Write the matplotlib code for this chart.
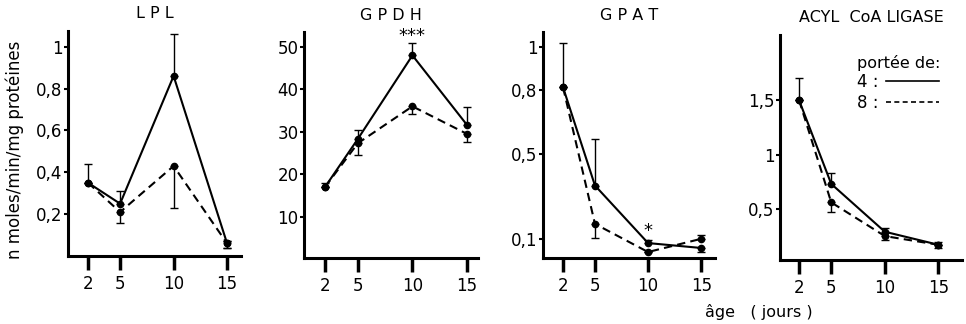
import matplotlib
matplotlib.use("Agg")
import matplotlib.pyplot as plt
from matplotlib.lines import Line2D
import numpy as np

plt.rcParams['font.family'] = ['DejaVu Sans']

ages = [2, 5, 10, 15]
age_labels = ['2', '5', '10', '15']

titles = ['L P L', 'G P D H', 'G P A T', 'ACYL  CoA LIGASE']

# LPL
lpl_4 = [0.35, 0.25, 0.86, 0.06]
lpl_4_lo = [0.0, 0.0, 0.0, 0.02]
lpl_4_hi = [0.09, 0.06, 0.20, 0.01]
lpl_8 = [0.35, 0.21, 0.43, 0.06]
lpl_8_lo = [0.0, 0.05, 0.20, 0.02]
lpl_8_hi = [0.0, 0.0, 0.0, 0.01]

# GPDH
gpdh_4 = [17.0, 28.3, 48.0, 31.6]
gpdh_4_lo = [0.0, 0.0, 0.0, 0.0]
gpdh_4_hi = [1.0, 2.2, 3.0, 4.3]
gpdh_8 = [17.0, 27.3, 36.0, 29.5]
gpdh_8_lo = [0.0, 2.7, 1.8, 1.9]
gpdh_8_hi = [0.0, 0.0, 0.0, 0.0]

# GPAT
gpat_4 = [0.81, 0.35, 0.08, 0.057]
gpat_4_lo = [0.0, 0.0, 0.0, 0.02]
gpat_4_hi = [0.21, 0.22, 0.015, 0.0]
gpat_8 = [0.81, 0.17, 0.038, 0.10]
gpat_8_lo = [0.0, 0.065, 0.0, 0.0]
gpat_8_hi = [0.0, 0.0, 0.0, 0.02]

# ACYL CoA LIGASE
acyl_4 = [1.50, 0.73, 0.29, 0.17]
acyl_4_lo = [0.0, 0.0, 0.0, 0.0]
acyl_4_hi = [0.20, 0.10, 0.03, 0.03]
acyl_8 = [1.50, 0.56, 0.25, 0.17]
acyl_8_lo = [0.0, 0.09, 0.04, 0.03]
acyl_8_hi = [0.0, 0.0, 0.0, 0.0]

yticks = [[0.2, 0.4, 0.6, 0.8, 1.0], [10, 20, 30, 40, 50], [0.1, 0.5, 0.8, 1.0], [0.5, 1.0, 1.5]]
ytick_labels = [['0,2', '0,4', '0,6', '0,8', '1'], ['10', '20', '30', '40', '50'],
                ['0,1', '0,5', '0,8', '1'], ['0,5', '1', '1,5']]

series = [
    (lpl_4, lpl_4_lo, lpl_4_hi, lpl_8, lpl_8_lo, lpl_8_hi),
    (gpdh_4, gpdh_4_lo, gpdh_4_hi, gpdh_8, gpdh_8_lo, gpdh_8_hi),
    (gpat_4, gpat_4_lo, gpat_4_hi, gpat_8, gpat_8_lo, gpat_8_hi),
    (acyl_4, acyl_4_lo, acyl_4_hi, acyl_8, acyl_8_lo, acyl_8_hi),
]

W, H = 966, 324
fig = plt.figure(figsize=(W / 100, H / 100), dpi=100)

# pixel boxes: left, right, top, bottom
boxes = [(68, 241, 31, 256), (304, 478, 32, 258), (543, 715, 32, 258), (780, 962, 35, 260)]
xlims = [(0.13, 16.3), (0.08, 16.0), (0.11, 16.3), (0.22, 17.2)]
ylims = [(0.0, 1.075), (0.3, 53.5), (0.01, 1.07), (0.03, 2.1)]

axes = []
for i, (l, r, t, b) in enumerate(boxes):
    ax = fig.add_axes([l / W, 1 - b / H, (r - l) / W, (b - t) / H])
    axes.append(ax)
    s4, s4lo, s4hi, s8, s8lo, s8hi = series[i]
    ax.errorbar(ages, s4, yerr=[s4lo, s4hi], color='black', lw=1.5, ls='-',
                marker='o', ms=4.5, elinewidth=1.0, capsize=3, capthick=1.0, clip_on=False, zorder=3)
    ax.errorbar(ages, s8, yerr=[s8lo, s8hi], color='black', lw=1.5, ls=(0, (4, 2.5)),
                marker='o', ms=4.5, elinewidth=1.0, capsize=3, capthick=1.0, clip_on=False, zorder=3)
    ax.set_xlim(*xlims[i])
    ax.set_ylim(*ylims[i])
    ax.set_xticks(ages)
    ax.set_xticklabels(age_labels)
    ax.set_yticks(yticks[i])
    ax.set_yticklabels(ytick_labels[i])
    for s in ['top', 'right']:
        ax.spines[s].set_visible(False)
    for s in ['left', 'bottom']:
        ax.spines[s].set_linewidth(2.2)
    ax.tick_params(axis='x', direction='out', length=10, width=2.5, labelsize=12, pad=4)
    ax.tick_params(axis='y', direction='out', length=3, width=1.5, labelsize=12, pad=1)
    ax.set_title(titles[i], fontsize=11.5, pad=9)

axes[1].text(10, 51.4, '***', ha='center', va='baseline', fontsize=13, clip_on=False)
axes[2].text(10, 0.135, '*', ha='center', va='center', fontsize=13)

handles = [Line2D([], [], color='black', lw=1.2, ls='-'),
           Line2D([], [], color='black', lw=1.2, ls=(0, (3, 2)))]
leg = axes[3].legend(handles, ['4 :', '8 :'], title='portée de:', markerfirst=False,
                     frameon=False, loc='upper left', bbox_to_anchor=(0.38, 0.95),
                     fontsize=12, title_fontsize=11.5, handlelength=3.2, handletextpad=0.4,
                     labelspacing=0.15, borderpad=0)
leg._legend_box.align = 'left'

fig.text(15 / W, 1 - 150 / H, 'n moles/min/mg protéines', rotation=90, ha='center', va='center', fontsize=12)
fig.text(705 / W, 1 - 312 / H, 'âge   ( jours )', ha='left', va='center', fontsize=11.5)

fig.savefig('out.png', dpi=100)
